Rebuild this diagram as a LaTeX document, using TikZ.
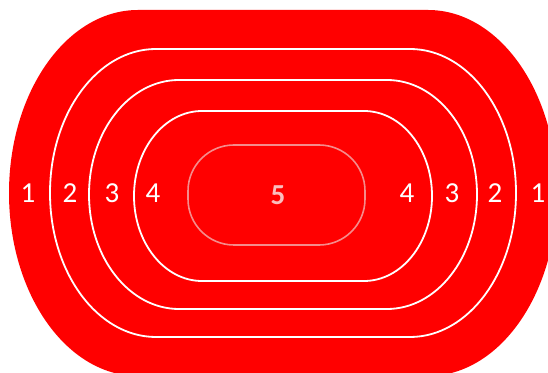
\documentclass[tikz,border=0pt]{standalone}
\usepackage{fontspec}
\setmainfont{Carlito}
\definecolor{trackred}{RGB}{255,0,0}
\definecolor{pillline}{RGB}{245,140,140}
\definecolor{fivecol}{RGB}{250,190,190}
\begin{document}
\begin{tikzpicture}[x=1pt,y=1pt,
  laneline/.style={draw=white,line width=1.8pt},
  lanenum/.style={text=white,font=\fontsize{29}{29}\selectfont,inner sep=0pt,anchor=center}]
\useasboundingbox (0,0) rectangle (548,372);
\fill[white] (0,0) rectangle (548,372);
\clip (0,0) rectangle (548,372);
% outer track
\fill[trackred] (138,362) -- (428,362)
  arc[start angle=90,end angle=-90,x radius=129,y radius=183]
  -- (138,-4)
  arc[start angle=270,end angle=90,x radius=129,y radius=183] -- cycle;
% lane line 1
\draw[laneline] (156,323) -- (410,323)
  arc[start angle=90,end angle=-90,x radius=106,y radius=144]
  -- (156,35)
  arc[start angle=270,end angle=90,x radius=106,y radius=144] -- cycle;
% lane line 2
\draw[laneline] (179,292) -- (387,292)
  arc[start angle=90,end angle=-90,x radius=90,y radius=114.5]
  -- (179,63)
  arc[start angle=270,end angle=90,x radius=90,y radius=114.5] -- cycle;
% lane line 3
\draw[laneline] (202,261) -- (364,261)
  arc[start angle=90,end angle=-90,x radius=68,y radius=85]
  -- (202,91)
  arc[start angle=270,end angle=90,x radius=68,y radius=85] -- cycle;
% inner pill
\draw[draw=pillline,line width=1.6pt,fill=trackred,rounded corners=46pt]
  (188,127) rectangle (365,227);
\node[lanenum,text=fivecol,font=\fontsize{29}{29}\selectfont\bfseries] (n5) at (278,177) {5};
% left numbers
\node[lanenum] (l1) at (28,178.5) {1};
\node[lanenum] (l2) at (70,178.5) {2};
\node[lanenum] (l3) at (112,178.5) {3};
\node[lanenum] (l4) at (153,178.5) {4};
% right numbers
\node[lanenum] (r4) at (407,178.5) {4};
\node[lanenum] (r3) at (452,178.5) {3};
\node[lanenum] (r2) at (495,178.5) {2};
\node[lanenum] (r1) at (538,178.5) {1};
\end{tikzpicture}
\end{document}
